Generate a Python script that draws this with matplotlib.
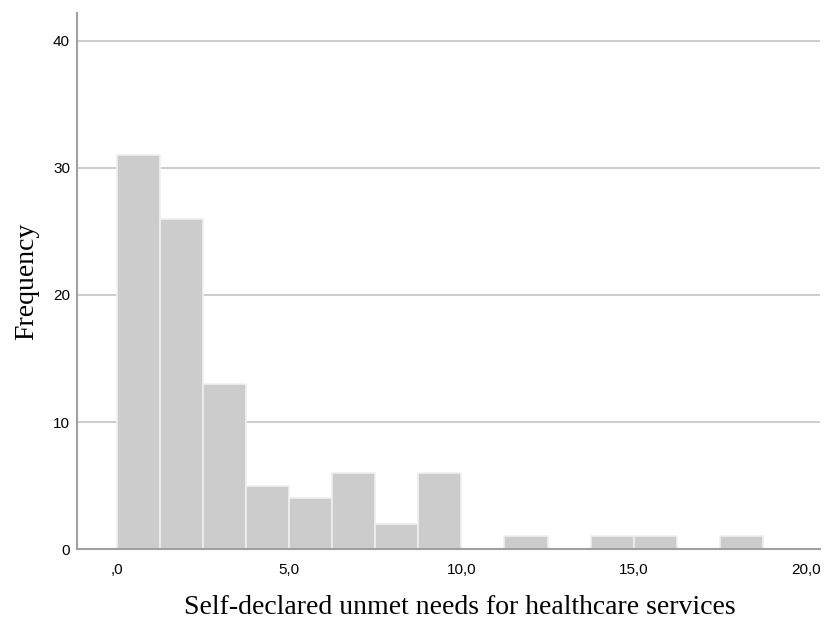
import matplotlib
matplotlib.use("Agg")
import matplotlib.pyplot as plt
from matplotlib.ticker import FuncFormatter
import numpy as np

# histogram counts, bins of width 1.25 starting at 0
BIN_START = 0.0
BIN_WIDTH = 1.25
counts = [31, 26, 13, 5, 4, 6, 2, 6, 0, 1, 0, 1, 1, 0, 1]

x_ticks = [0, 5, 10, 15, 20]
y_ticks = [0, 10, 20, 30, 40]

BAR_COLOR = "#cccccc"
GRID_COLOR = "#c8c8c8"
AXIS_COLOR = "#a0a0a0"


def comma_fmt(v, pos):
    # decimal comma, leading zero dropped like ",0"
    s = f"{v:.1f}".replace(".", ",")
    if s.startswith("0,"):
        s = s[1:]
    return s


fig = plt.figure(figsize=(8.32, 6.19), dpi=100)
ax = fig.add_axes([0.0925, 0.113, 0.893, 0.866])

edges = BIN_START + BIN_WIDTH * np.arange(len(counts))
ax.bar(edges, counts, width=BIN_WIDTH, align="edge", color=BAR_COLOR,
       edgecolor="#f0f0f0", linewidth=1.2, zorder=2)

ax.set_xlim(-1.15, 20.4)
ax.set_ylim(0, 42.2)
ax.set_xticks(x_ticks)
ax.set_yticks(y_ticks)
ax.xaxis.set_major_formatter(FuncFormatter(comma_fmt))

ax.yaxis.grid(True, color=GRID_COLOR, lw=1.3, zorder=1)
ax.set_axisbelow(True)

for side in ("top", "right"):
    ax.spines[side].set_visible(False)
for side in ("left", "bottom"):
    ax.spines[side].set_color(AXIS_COLOR)
    ax.spines[side].set_linewidth(1.5)

ax.tick_params(axis="both", length=0, labelsize=11, colors="black",
               labelfontfamily="Liberation Sans")
ax.tick_params(axis="x", pad=10)
ax.tick_params(axis="y", pad=5)

ax.set_xlabel("Self-declared unmet needs for healthcare services",
              fontsize=20, family="Liberation Serif")
ax.xaxis.set_label_coords(0.515, -0.085, transform=ax.transAxes)
ax.xaxis.label.set_va("top")
ax.set_ylabel("Frequency", fontsize=20, family="Liberation Serif", labelpad=10)

fig.savefig("out.png", dpi=100)
